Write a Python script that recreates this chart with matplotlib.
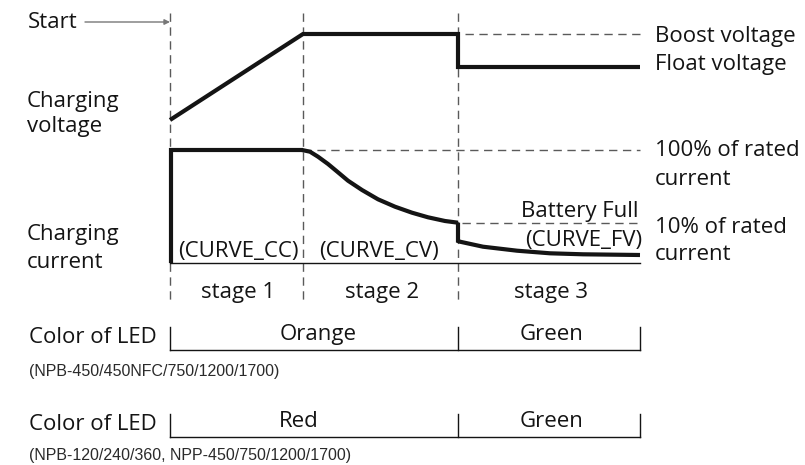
"""
Three-stage charging curve diagram (CC / CV / FV) with LED colour table.
Drawn in a pixel-like diagram space (x right, y down) so layout matches
the original figure.
"""

import matplotlib.pyplot as plt

# ---------------------------------------------------------------------------
# Diagram data (diagram units, y grows downward)
# ---------------------------------------------------------------------------

stage_bounds = [170, 303, 458, 640]          # start, end stage1, end stage2, end
stage_labels = ["stage 1", "stage 2", "stage 3"]
curve_labels = ["(CURVE_CC)", "(CURVE_CV)"]

# charging voltage trace
volt_x = [170, 303, 458, 458, 640]
volt_y = [120, 34, 34, 67, 67]
boost_level = 34

# charging current trace
cur_base = 263
cur_full = 150      # 100 % of rated
cur_tenth = 223     # 10 % of rated
cc_x = [171, 171, 303]
cc_y = [cur_base, cur_full, cur_full]
cv_x = [302, 310, 318, 328, 338, 348, 362, 378, 395, 412, 428, 445, 458]
cv_y = [150, 151.7, 156.7, 164, 172.3, 180.7, 190, 199.3, 206.7, 212.7,
        217.3, 221, 222.7]
fv_x = [458, 458, 460, 483, 517, 550, 583, 640]
fv_y = [222.7, 241, 241.7, 246.7, 250.7, 253.3, 254.3, 255]

# LED table rows
led_rows = [
    {"y": 350, "colours": ["Orange", "Green"], "split": 458, "shift": 4,
     "models": "(NPB-450/450NFC/750/1200/1700)"},
    {"y": 437, "colours": ["Red", "Green"], "split": 458, "shift": -15,
     "models": "(NPB-120/240/360, NPP-450/750/1200/1700)"},
]

# ---------------------------------------------------------------------------
# Styles
# ---------------------------------------------------------------------------

INK = "#141414"
DASH = "#5a5a5a"
FONT = ["Open Sans", "DejaVu Sans"]
SMALL = ["Liberation Sans", "DejaVu Sans"]
FS = 16

plt.rcParams["font.family"] = FONT

fig = plt.figure(figsize=(8.05, 4.65), dpi=100)
ax = fig.add_axes([0, 0, 1, 1])
ax.set_xlim(0, 805)
ax.set_ylim(465, 0)
ax.axis("off")

dash_kw = dict(color=DASH, linewidth=1.0, linestyle=(0, (6, 4)))
thick_kw = dict(color=INK, linewidth=3.0, solid_joinstyle="miter",
                solid_capstyle="butt")

# vertical stage dividers
for x in stage_bounds[:3]:
    ax.plot([x, x], [13, 300], **dash_kw)

# reference levels
ax.plot([465, 640], [boost_level, boost_level], **dash_kw)
ax.plot([303, 640], [cur_full, cur_full], **dash_kw)
ax.plot([462, 640], [cur_tenth, cur_tenth], **dash_kw)

# baseline of current plot
ax.plot([stage_bounds[0], stage_bounds[-1]], [cur_base, cur_base],
        color=INK, linewidth=1.0)

# traces
ax.plot(volt_x, volt_y, **thick_kw)
ax.plot(cc_x, cc_y, **thick_kw)
ax.plot(cv_x, cv_y, **thick_kw)
ax.plot(fv_x, fv_y, **thick_kw)


def label(x, y, s, **kw):
    ax.text(x, y, s, fontsize=FS, color=INK, va="baseline", **kw)


# start arrow
label(28, 28, "Start")
ax.annotate("", xy=(170, 22), xytext=(85, 22),
            arrowprops=dict(arrowstyle="-|>", color="#777777", lw=1.0,
                            mutation_scale=8, shrinkA=0, shrinkB=0))

# left labels
label(27, 107, "Charging")
label(27, 132, "voltage")
label(27, 240, "Charging")
label(27, 268, "current")

# right labels
label(655, 42, "Boost voltage")
label(655, 70, "Float voltage")
label(655, 156, "100% of rated")
label(655, 185, "current")
label(655, 233, "10% of rated")
label(655, 260, "current")
label(638, 217, "Battery Full", ha="right")
label(642, 246, "(CURVE_FV)", ha="right")

# curve names and stage names
for i, lab in enumerate(curve_labels):
    xc = (stage_bounds[i] + stage_bounds[i + 1]) / 2 + (-2 if i else 2)
    label(xc, 257, lab, ha="center")
for i, lab in enumerate(stage_labels):
    xc = (stage_bounds[i] + stage_bounds[i + 1]) / 2
    label(xc + 2, 298, lab, ha="center")

# LED table
for k, row in enumerate(led_rows):
    y = row["y"]
    x0, xs, x1 = stage_bounds[0], row["split"], stage_bounds[-1]
    ax.plot([x0, x1], [y, y], color=INK, linewidth=1.0)
    ax.plot([x0, x0], [y - 23, y], color=INK, linewidth=1.0)
    ax.plot([xs, xs], [y - 23, y], color=INK, linewidth=1.0)
    ax.plot([x1, x1], [y - 23, y], color=INK, linewidth=1.0)
    label(29, y - 7, "Color of LED")
    label((x0 + xs) / 2 + row["shift"], y - 10, row["colours"][0],
          ha="center")
    label((xs + x1) / 2 + 3, y - 10, row["colours"][1], ha="center")
    ax.text(29, y + (26 if k == 0 else 23), row["models"], fontsize=11.5,
            color="#2a2a2a", va="baseline", family=SMALL)

fig.savefig("out.png", dpi=100)
